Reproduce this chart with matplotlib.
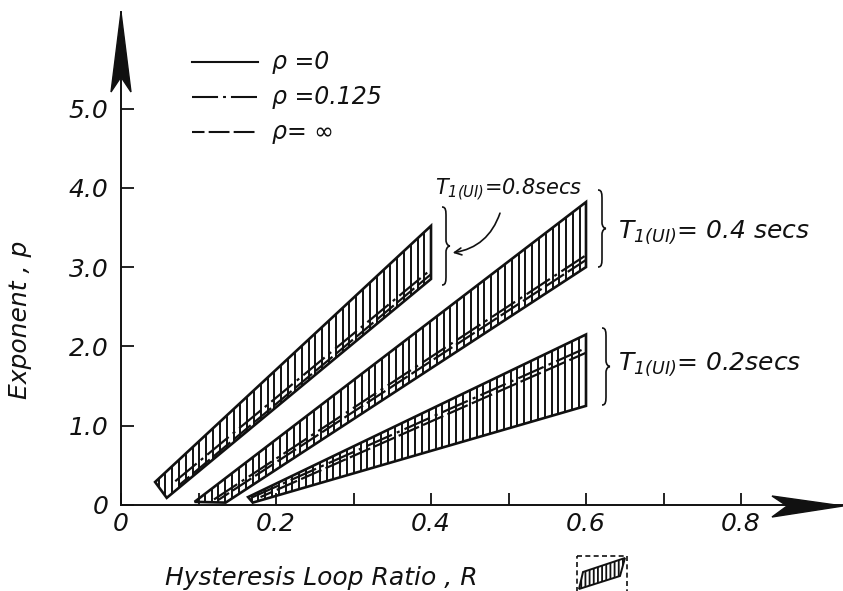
import numpy as np
import matplotlib.pyplot as plt
from matplotlib.patches import Polygon, PathPatch
from matplotlib.collections import LineCollection
from matplotlib.path import Path
from matplotlib.transforms import Affine2D

plt.rcParams['font.family'] = ['DejaVu Sans']
plt.rcParams['font.style'] = 'italic'
plt.rcParams['mathtext.fontset'] = 'custom'
plt.rcParams['mathtext.rm'] = 'DejaVu Sans:italic'
plt.rcParams['mathtext.it'] = 'DejaVu Sans:italic'
plt.rcParams['hatch.linewidth'] = 1.3

ink = '#111111'

# period labels of the three bands
periods = ['0.8', '0.4', '0.2']

# band outlines: upper edge, lower edge, right end
top_R0 = [0.044, 0.095, 0.164]
top_p0 = [0.29, 0.04, 0.10]
bot_R0 = [0.059, 0.135, 0.170]
bot_p0 = [0.09, 0.03, 0.03]
R_end = [0.40, 0.60, 0.60]
top_p1 = [3.52, 3.82, 2.15]
bot_p1 = [2.85, 3.00, 1.25]

# inner curves, rho = 0.125 and rho = infinity
mid_R0 = [0.070, 0.120, 0.170]
mid_p0 = [0.30, 0.07, 0.10]
mid_p1 = [2.97, 3.15, 1.98]
inf_R0 = [0.075, 0.125, 0.180]
inf_p0 = [0.25, 0.06, 0.10]
inf_p1 = [2.91, 3.09, 1.92]

legend_labels = ['ρ =0', 'ρ =0.125', 'ρ= ∞']
legend_p = [5.59, 5.14, 4.70]

x_ticks = [0, 0.1, 0.2, 0.3, 0.4, 0.5, 0.6, 0.7, 0.8]
x_ticklabels = ['0', '', '0.2', '', '0.4', '', '0.6', '', '0.8']
y_ticks = [0, 1, 2, 3, 4, 5]
y_ticklabels = ['0', '1.0', '2.0', '3.0', '4.0', '5.0']

dashdot = (0, (12.5, 2.4, 1.4, 2.4))
dashed = (4, (10, 2))

W, H = 843, 591
fig = plt.figure(figsize=(W / 100, H / 100), dpi=100)
# pixel coords measured from top-left, for the drawing decorations
px = Affine2D().scale(1 / W, -1 / H).translate(0, 1) + fig.transFigure

ax = fig.add_axes([121 / W, 86 / H, 722 / W, 493 / H])
ax.set_xlim(0, 722 / 775)
ax.set_ylim(0, 493 / 79.3)
for s in ['top', 'right']:
    ax.spines[s].set_visible(False)
for s in ['left', 'bottom']:
    ax.spines[s].set_linewidth(1.4)
    ax.spines[s].set_color(ink)

ax.set_xticks(x_ticks)
ax.set_xticklabels(x_ticklabels)
ax.set_yticks(y_ticks)
ax.set_yticklabels(y_ticklabels)
ax.tick_params(direction='in', length=9, width=1.3, labelsize=18, colors=ink)
ax.tick_params(axis='x', pad=5)
ax.tick_params(axis='y', pad=9)

step = 0.0088
for i in range(3):
    pts = [(top_R0[i], top_p0[i]), (R_end[i], top_p1[i]),
           (R_end[i], bot_p1[i]), (bot_R0[i], bot_p0[i])]
    band = Polygon(pts, closed=True, fill=False, ec=ink, lw=1.9)
    ax.add_patch(band)
    xs = np.arange(top_R0[i] + step / 2, R_end[i], step)
    segs = [[(x, 0), (x, top_p1[i] + 1)] for x in xs]
    lc = LineCollection(segs, colors=ink, linewidths=1.4)
    ax.add_collection(lc)
    lc.set_clip_path(band)
    ax.plot([mid_R0[i], R_end[i]], [mid_p0[i], mid_p1[i]], color=ink, lw=1.6, ls=dashdot)
    ax.plot([inf_R0[i], R_end[i]], [inf_p0[i], inf_p1[i]], color=ink, lw=1.6, ls=dashed)

# legend
for lab, p, ls in zip(legend_labels, legend_p, ['-', dashdot, dashed]):
    ax.plot([0.0916, 0.1768], [p, p], color=ink, lw=1.5, ls=ls, clip_on=False)
    ax.text(0.195, p, lab, va='center', ha='left', fontsize=17, color=ink)

# period labels
ax.text(0.405, 3.97, r'$T_{1(UI)}$=' + periods[0] + 'secs', fontsize=15,
        va='center', ha='left', color=ink)
ax.text(0.641, 3.44, r'$T_{1(UI)}$= ' + periods[1] + ' secs', fontsize=18,
        va='center', ha='left', color=ink)
ax.text(0.641, 1.77, r'$T_{1(UI)}$= ' + periods[2] + 'secs', fontsize=18,
        va='center', ha='left', color=ink)
ax.annotate('', xy=(0.428, 3.18), xytext=(0.489, 3.68),
            arrowprops=dict(arrowstyle='->,head_length=0.5,head_width=0.25',
                            connectionstyle='arc3,rad=-0.3', lw=1.2, color=ink,
                            shrinkA=0, shrinkB=0))


def brace(x, y0, y1, w):
    ym = (y0 + y1) / 2
    h = x + w * 0.5
    verts = [(x, y0), (h, y0), (h, y0 + 4), (h, y0 + 10),
             (h, ym - 6),
             (h, ym - 2), (x + w * 0.8, ym), (x + w, ym),
             (x + w * 0.8, ym), (h, ym + 2), (h, ym + 6),
             (h, y1 - 10),
             (h, y1 - 4), (h, y1), (x, y1)]
    codes = [Path.MOVETO, Path.CURVE4, Path.CURVE4, Path.CURVE4,
             Path.LINETO,
             Path.CURVE4, Path.CURVE4, Path.CURVE4,
             Path.CURVE4, Path.CURVE4, Path.CURVE4,
             Path.LINETO,
             Path.CURVE4, Path.CURVE4, Path.CURVE4]
    fig.add_artist(PathPatch(Path(verts, codes), fill=False, ec=ink, lw=1.2,
                             transform=px))


brace(442, 207, 285, 8)
brace(598, 190, 267, 8)
brace(602, 328, 405, 8)

# axis arrow heads
fig.add_artist(Polygon([(121, 12), (111, 92), (121, 77), (131, 92)],
                       closed=True, fc=ink, ec=ink, lw=1, transform=px))
fig.add_artist(Polygon([(843, 506), (772, 496), (787, 506), (772, 517)],
                       closed=True, fc=ink, ec=ink, lw=1, transform=px))

fig.text(20, 320, 'Exponent , p', rotation=90, va='center', ha='center',
         fontsize=18, color=ink, transform=px)
fig.text(165, 578, 'Hysteresis Loop Ratio , R', va='center', ha='left',
         fontsize=18, color=ink, transform=px)

# small key symbol beside the axis title
fig.add_artist(Polygon([(577, 556), (627, 556), (627, 596), (577, 596)], closed=True,
                       fill=False, ec=ink, lw=1.2, ls=(0, (3, 2)), transform=px))
fig.add_artist(Polygon([(579, 589), (583, 572), (625, 558), (620, 576)], closed=True,
                       fill=False, ec=ink, lw=1.4, hatch='||||', transform=px))

fig.savefig('out.png', dpi=100)
